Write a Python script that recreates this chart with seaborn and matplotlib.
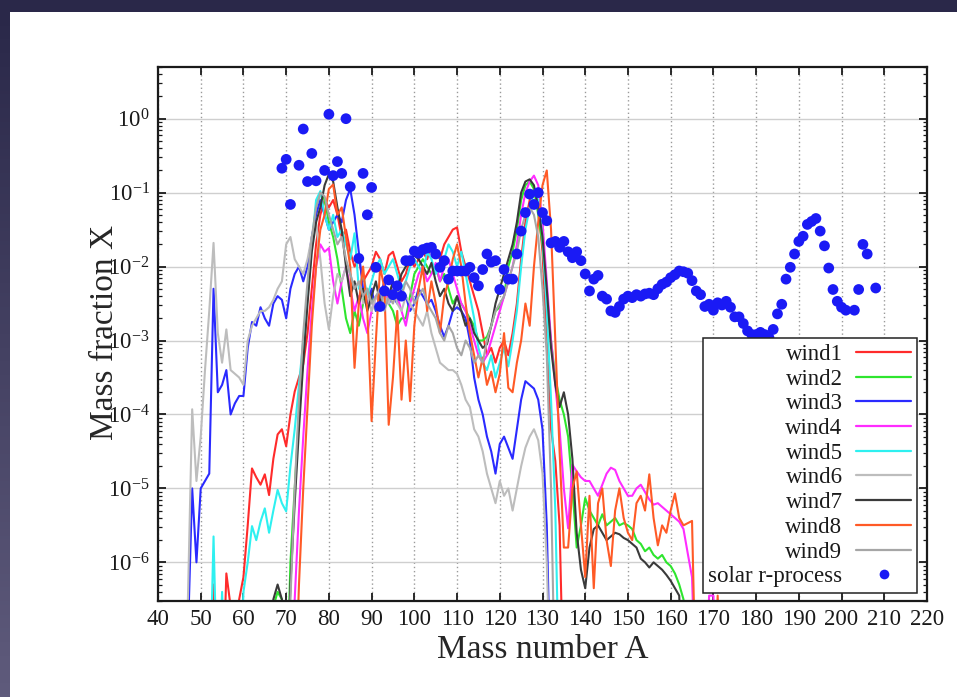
import numpy as np
import pandas as pd
import matplotlib
matplotlib.use("Agg")
import matplotlib.pyplot as plt
from matplotlib.lines import Line2D
from matplotlib.patches import Rectangle
from matplotlib.ticker import (FixedLocator, LogLocator, LogFormatterSciNotation,
                               NullFormatter)
import seaborn as sns

# Mass numbers shared by all wind trajectories
mass_number = list(range(45, 175))

# log10 of the mass fraction per wind trajectory (-8 = far below the plotted range)
wind1_log = [
    -8, -8, -8, -8, -8, -8, -8, -8, -6.3, -8,
    -8, -6.15, -6.6, -8, -6.5, -6.2, -5.5, -4.73, -4.85, -4.95,
    -4.81, -5.09, -4.6, -4.27, -4.2, -4.43, -4.0, -3.69, -3.5, -3.32,
    -2.9, -2.3, -1.7, -1.3, -1.1, -1.2, -1.1, -1.3, -1.6, -1.5,
    -1.8, -2.0, -1.9, -2.2, -2.1, -2.0, -1.8, -1.9, -2.1, -1.85,
    -1.8, -2.0, -2.2, -2.1, -1.9, -2.0, -1.9, -1.8, -1.9, -1.7,
    -1.8, -1.9, -1.7, -1.6, -1.5, -1.47, -1.8, -2.0, -2.2, -2.4,
    -2.6, -2.9, -3.2, -3.1, -3.3, -3.1, -3.0, -3.2, -2.9, -2.5,
    -1.9, -1.4, -1.1, -0.95, -1.2, -1.8, -3.0, -4.2, -4.63, -5.5,
    -8, -8, -8, -8, -8, -8, -8, -8, -8, -8,
    -8, -8, -8, -8, -8, -8, -8, -8, -8, -8,
    -8, -8, -8, -8, -8, -8, -8, -8, -8, -8,
    -8, -8, -8, -8, -8, -8, -8, -8, -8, -8,
]
wind2_log = [
    -8, -8, -8, -8, -8, -8, -8, -8, -8, -8,
    -8, -8, -8, -8, -8, -8, -8, -8, -8, -8,
    -8, -8, -6.6, -6.4, -6.5, -8, -6.0, -5.0, -4.0, -3.2,
    -2.4, -1.7, -1.2, -1.0, -1.1, -1.4, -1.6, -1.9, -2.3, -2.7,
    -2.9, -2.6, -2.8, -2.5, -2.3, -2.4, -2.6, -2.4, -2.3, -2.5,
    -2.6, -2.8, -2.7, -2.7, -2.4, -2.1, -2.0, -1.9, -2.0, -2.1,
    -2.0, -2.2, -2.1, -2.3, -2.5, -2.4, -2.5, -2.6, -2.7, -2.8,
    -3.0, -3.0, -2.95, -2.8, -2.6, -2.55, -2.4, -2.0, -1.8, -1.5,
    -1.1, -0.9, -0.85, -0.95, -1.3, -1.7, -2.4, -3.0, -3.5, -3.8,
    -4.0, -4.3, -5.0, -5.8, -5.5, -5.13, -5.3, -5.4, -5.5, -5.35,
    -5.5, -5.45, -5.4, -5.5, -5.47, -5.5, -5.55, -5.7, -5.75, -5.85,
    -5.8, -5.9, -5.95, -5.9, -6.0, -6.05, -6.15, -6.3, -6.5, -8,
    -8, -8, -8, -8, -8, -8, -8, -8, -8, -8,
]
wind3_log = [
    -8, -8, -7, -5.0, -6.0, -5.0, -4.9, -4.8, -2.3, -3.7,
    -3.6, -3.4, -4.0, -3.85, -3.75, -3.75, -3.1, -2.75, -2.8, -2.55,
    -2.7, -2.8, -2.5, -2.4, -2.45, -2.7, -2.3, -2.1, -2.0, -2.2,
    -2.0, -1.6, -1.3, -1.1, -1.3, -1.5, -1.4, -1.3, -1.4, -1.1,
    -0.95, -1.3, -1.8, -2.3, -2.5, -2.3, -2.6, -2.4, -2.2, -2.5,
    -2.4, -2.5, -2.3, -2.4, -2.6, -2.5, -2.3, -2.4, -2.5, -2.45,
    -2.6, -2.8, -2.95, -2.8, -2.6, -2.55, -2.6, -2.7, -3.0, -3.5,
    -3.8, -4.0, -4.3, -4.5, -4.8, -4.4, -4.3, -4.45, -4.6, -4.2,
    -3.8, -3.55, -3.6, -3.65, -3.8, -4.2, -5.5, -8, -8, -8,
    -8, -8, -8, -8, -8, -8, -8, -8, -8, -8,
    -8, -8, -8, -8, -8, -8, -8, -8, -8, -8,
    -8, -8, -8, -8, -8, -8, -8, -8, -8, -8,
    -8, -8, -8, -8, -8, -8, -8, -8, -8, -8,
]
wind4_log = [
    -8, -8, -8, -8, -8, -8, -8, -8, -8, -8,
    -8, -8, -8, -8, -8, -8, -8, -8, -8, -8,
    -8, -8, -8, -8, -8, -8, -8, -6.5, -5.3, -4.3,
    -3.4, -2.6, -2.0, -1.7, -1.8, -1.75, -2.2, -2.5, -2.2, -2.0,
    -2.3, -2.6, -2.4, -2.7, -2.9, -2.6, -2.4, -2.5, -2.3, -2.5,
    -2.2, -2.4, -2.6, -2.8, -2.5, -2.3, -2.1, -2.0, -2.2, -2.1,
    -1.95, -2.2, -2.0, -1.9, -2.1, -2.3, -2.5, -2.6, -2.8, -3.0,
    -3.2, -3.3, -3.2, -3.0, -2.8, -2.6, -2.4, -2.2, -2.0, -1.7,
    -1.3, -1.0, -0.85, -0.77, -0.9, -1.4, -2.2, -3.0, -3.6, -4.2,
    -5.0, -5.54, -4.68, -4.77, -4.85, -4.9, -4.9, -5.0, -5.1, -4.95,
    -4.8, -4.72, -4.75, -4.9, -5.0, -5.1, -5.1, -5.0, -4.95, -5.05,
    -5.15, -5.22, -5.2, -5.25, -5.3, -5.35, -5.4, -5.45, -5.55, -5.88,
    -6.2, -8, -8, -8, -6.45, -6.45, -8, -8, -8, -8,
]
wind5_log = [
    -8, -8, -8, -8, -8, -8, -8, -8, -5.65, -8,
    -6.4, -8, -8, -8, -8, -6.4, -6.0, -5.51, -5.7, -5.45,
    -5.27, -5.6, -5.3, -5.02, -5.2, -5.31, -4.7, -4.2, -3.6, -3.0,
    -2.4, -1.7, -1.1, -0.98, -1.3, -1.5, -1.3, -1.6, -1.5, -1.7,
    -1.9, -1.55, -2.3, -2.1, -2.4, -2.2, -2.0, -1.9, -2.1, -2.0,
    -1.9, -2.1, -2.3, -2.2, -2.0, -1.9, -2.0, -2.1, -1.8, -1.9,
    -2.1, -2.0, -1.9, -1.7, -1.8, -2.0, -1.8, -2.1, -2.4, -2.7,
    -3.1, -3.3, -3.4, -3.2, -3.5, -3.3, -3.1, -3.35, -3.0, -2.6,
    -2.0, -1.5, -1.2, -1.0, -1.1, -1.6, -2.6, -3.8, -5.3, -8,
    -8, -8, -8, -8, -8, -8, -8, -8, -8, -8,
    -8, -8, -8, -8, -8, -8, -8, -8, -8, -8,
    -8, -8, -8, -8, -8, -8, -8, -8, -8, -8,
    -8, -8, -8, -8, -8, -8, -8, -8, -8, -8,
]
wind6_log = [
    -8, -8, -6.5, -3.93, -4.9, -4.3, -3.4, -2.6, -1.68, -2.9,
    -3.3, -2.85, -3.4, -3.45, -3.5, -3.6, -3.0, -2.8, -2.7, -2.6,
    -2.6, -2.55, -2.45, -2.3, -2.2, -1.7, -1.6, -1.9, -2.0, -2.1,
    -1.9, -1.6, -1.4, -1.9, -2.5, -2.85, -2.4, -2.1, -2.2, -2.0,
    -2.1, -2.3, -2.2, -2.5, -2.4, -2.6, -2.4, -2.5, -2.4, -2.5,
    -2.3, -2.5, -2.6, -2.4, -2.5, -2.6, -2.7, -2.8, -2.6, -2.9,
    -3.1, -3.3, -3.35, -3.4, -3.4, -3.45, -3.6, -3.8, -3.9, -4.2,
    -4.3, -4.5, -4.8, -5.0, -5.2, -4.9, -5.1, -5.0, -5.3, -5.0,
    -4.7, -4.45, -4.3, -4.2, -4.35, -4.8, -6.0, -8, -8, -8,
    -8, -8, -8, -8, -8, -8, -8, -8, -8, -8,
    -8, -8, -8, -8, -8, -8, -8, -8, -8, -8,
    -8, -8, -8, -8, -8, -8, -8, -8, -8, -8,
    -8, -8, -8, -8, -8, -8, -8, -8, -8, -8,
]
wind7_log = [
    -8, -8, -8, -8, -8, -8, -8, -8, -8, -8,
    -8, -8, -8, -8, -8, -8, -8, -8, -8, -8,
    -8, -8, -6.5, -6.3, -6.5, -8, -6.3, -5.2, -4.2, -3.3,
    -2.5, -1.8, -1.4, -1.2, -0.9, -0.75, -0.85, -1.2, -1.5, -2.0,
    -2.4, -2.2, -2.5, -2.3, -2.6, -2.4, -2.2, -2.5, -2.3, -2.4,
    -2.2, -2.3, -2.1, -2.0, -1.9, -1.85, -1.9, -2.0, -2.1, -1.95,
    -2.2, -2.4, -2.3, -2.5, -2.6, -2.4, -2.6, -2.8, -2.7, -2.9,
    -3.0, -3.1, -3.05, -2.8, -2.5, -2.3, -2.1, -1.9, -1.7, -1.4,
    -1.0, -0.85, -0.82, -0.9, -1.2, -1.6, -2.3, -3.1, -3.6, -3.9,
    -3.7, -4.0, -4.6, -5.6, -6.1, -6.35, -5.8, -5.55, -5.5, -5.6,
    -5.7, -5.65, -5.6, -5.62, -5.67, -5.7, -5.75, -5.8, -5.95, -6.0,
    -6.07, -6.0, -6.05, -6.1, -6.17, -6.25, -6.35, -6.45, -8, -8,
    -8, -8, -8, -8, -8, -8, -8, -8, -8, -8,
]
wind8_log = [
    -8, -8, -8, -8, -8, -8, -8, -8, -8, -8,
    -8, -8, -8, -8, -8, -8, -8, -8, -8, -8,
    -8, -8, -8, -8, -8, -8, -8, -8, -6.3, -5.0,
    -3.9, -2.8, -2.0, -1.5, -1.3, -0.95, -0.89, -1.3, -1.2, -1.6,
    -2.0, -3.37, -2.5, -2.0, -2.6, -4.09, -3.0, -2.0, -2.3, -4.14,
    -3.5, -2.6, -3.8, -3.0, -3.82, -2.8, -2.3, -2.0, -2.6, -2.2,
    -2.5, -2.9, -2.4, -2.2, -1.9, -1.7, -2.0, -2.5, -2.9, -3.2,
    -3.5, -3.23, -3.6, -3.42, -3.7, -3.45, -2.9, -3.64, -3.7, -3.3,
    -3.0, -2.5, -2.8, -2.0, -1.4, -0.9, -0.7, -1.5, -3.0, -4.5,
    -5.8, -5.8, -5.0, -4.77, -5.5, -6.2, -5.1, -6.35, -5.2, -5.0,
    -5.7, -6.05, -5.3, -5.0, -5.4, -5.6, -5.7, -5.2, -5.1, -5.3,
    -4.81, -5.4, -5.77, -5.5, -5.6, -5.3, -5.07, -5.4, -5.5, -5.47,
    -5.44, -8, -8, -8, -8, -8, -6.45, -8, -8, -8,
]
wind9_log = [
    -8, -8, -8, -8, -8, -8, -8, -8, -8, -8,
    -8, -8, -8, -8, -8, -8, -8, -8, -8, -8,
    -8, -8, -8, -8, -8, -8, -6.5, -5.0, -3.8, -2.9,
    -2.2, -1.6, -1.2, -1.0, -1.05, -1.3, -1.5, -1.7, -1.6, -1.9,
    -2.1, -2.3, -2.2, -2.4, -2.3, -2.5, -2.4, -2.3, -2.6, -2.4,
    -2.5, -2.3, -2.4, -2.2, -2.3, -2.5, -2.4, -2.3, -2.5, -2.6,
    -2.7, -2.9, -3.0, -2.8, -2.9, -3.1, -3.2, -3.0, -3.1, -3.3,
    -3.2, -3.3, -3.0, -2.8, -2.6, -2.5, -2.4, -2.2, -2.0, -1.8,
    -1.5, -1.3, -1.2, -1.3, -1.6, -2.3, -3.2, -5.0, -8, -8,
    -8, -8, -8, -8, -8, -8, -8, -8, -8, -8,
    -8, -8, -8, -8, -8, -8, -8, -8, -8, -8,
    -8, -8, -8, -8, -8, -8, -8, -8, -8, -8,
    -8, -8, -8, -8, -8, -8, -8, -8, -8, -8,
]

# Solar r-process abundances: mass number and log10 mass fraction
solar_A = [
    69, 70, 71, 73, 74, 75, 76, 77, 79, 80, 81, 82, 83, 84, 85, 87, 88, 89, 90,
    91, 92, 93, 94, 95, 96, 97, 98, 99, 100, 101, 102, 103, 104, 105, 106, 107,
    108, 109, 110, 111, 112, 113, 114, 115, 116, 117, 118, 119, 120, 121, 122,
    123, 124, 125, 126, 127, 128, 129, 130, 131, 132, 133, 134, 135, 136, 137,
    138, 139, 140, 141, 142, 143, 144, 145, 146, 147, 148, 149, 150, 151, 152,
    153, 154, 155, 156, 157, 158, 159, 160, 161, 162, 163, 164, 165, 166, 167,
    168, 169, 170, 171, 172, 173, 174, 175, 176, 177, 178, 179, 180, 181, 182,
    183, 184, 185, 186, 187, 188, 189, 190, 191, 192, 193, 194, 195, 196, 197,
    198, 199, 200, 201, 203, 204, 205, 206, 208,
]
solar_log = [
    -0.67, -0.55, -1.16, -0.63, -0.14, -0.85, -0.47, -0.84, -0.70, 0.06, -0.77,
    -0.58, -0.74, 0.0, -0.92, -1.89, -0.74, -1.30, -0.93,
    -2.01, -2.54, -2.33, -2.18, -2.38, -2.26, -2.40, -1.92, -1.92, -1.79, -1.82,
    -1.77, -1.75, -1.74, -1.83, -2.01, -1.92,
    -2.17, -2.06, -2.06, -2.06, -2.06, -2.01, -2.15, -2.26, -2.04, -1.83, -1.94,
    -1.92, -2.31, -2.04, -2.17,
    -2.17, -1.83, -1.52, -1.27, -1.02, -1.16, -1.0, -1.27, -1.38, -1.68, -1.66,
    -1.74, -1.66, -1.80, -1.88,
    -1.80, -1.92, -2.10, -2.33, -2.17, -2.12, -2.40, -2.44, -2.60, -2.62, -2.54,
    -2.44, -2.40, -2.42, -2.38,
    -2.40, -2.37, -2.36, -2.38, -2.30, -2.24, -2.21, -2.15, -2.11, -2.06, -2.07,
    -2.09, -2.19, -2.33, -2.38,
    -2.54, -2.51, -2.59, -2.49, -2.52, -2.47, -2.55, -2.68, -2.68, -2.77, -2.87,
    -2.92, -2.92, -2.89, -2.92,
    -2.96, -2.85, -2.64, -2.51, -2.17, -2.01, -1.83, -1.66, -1.59, -1.43, -1.39,
    -1.35, -1.52, -1.72, -2.02,
    -2.31, -2.47, -2.55, -2.59, -2.59, -2.31, -1.70, -1.83, -2.29,
]

# Axis ticks
x_ticks = [40, 50, 60, 70, 80, 90, 100, 110, 120, 130, 140, 150, 160, 170, 180,
           190, 200, 210, 220]
y_ticks = [1e-6, 1e-5, 1e-4, 1e-3, 1e-2, 1e-1, 1e0]

series_names = ["wind1", "wind2", "wind3", "wind4", "wind5",
                "wind6", "wind7", "wind8", "wind9"]
series_logs = [wind1_log, wind2_log, wind3_log, wind4_log, wind5_log,
               wind6_log, wind7_log, wind8_log, wind9_log]
series_colors = ["#ff2b2b", "#2ee52e", "#2a2aff", "#ff2cff", "#2ef0f0",
                 "#bdbdbd", "#3a3a3a", "#ff5a26", "#a6a6a6"]
solar_color = "#1a1af5"

sns.set_style("ticks")
plt.rcParams.update({
    "font.family": ["Liberation Serif", "DejaVu Serif"],
    "mathtext.fontset": "custom",
    "mathtext.rm": "Liberation Serif",
    "mathtext.it": "Liberation Serif:italic",
    "mathtext.bf": "Liberation Serif:bold",
    "axes.edgecolor": "#1a1a1a",
    "text.color": "#1a1a1a",
})

wind_df = pd.concat(
    [pd.DataFrame({"A": mass_number, "X": np.power(10.0, vals), "series": name})
     for name, vals in zip(series_names, series_logs)],
    ignore_index=True,
)
solar_df = pd.DataFrame({"A": solar_A, "X": np.power(10.0, solar_log)})

W, H = 957, 697
fig = plt.figure(figsize=(W / 100, H / 100), dpi=100)
fig.patch.set_facecolor("white")

# dark slide frame along the top and the left side
fig.patches.append(Rectangle((0, 1 - 12 / H), 1, 12 / H, transform=fig.transFigure,
                             facecolor="#2a2849", edgecolor="none", zorder=0))
band = fig.add_axes([0, 0, 10 / W, 1 - 12 / H])
band.set_axis_off()
top_rgb = np.array([0x2a, 0x28, 0x49]) / 255
bot_rgb = np.array([0x5f, 0x5b, 0x7c]) / 255
frac = np.linspace(0, 1, 200)[:, None]
band.imshow((top_rgb * (1 - frac) + bot_rgb * frac)[:, None, :], aspect="auto",
            extent=(0, 1, 0, 1))

ax = fig.add_axes([158 / W, 1 - 601 / H, 769 / W, 534 / H])
ax.set_yscale("log")
ax.set_xlim(40, 220)
ax.set_ylim(3e-7, 5)

sns.lineplot(data=wind_df, x="A", y="X", hue="series", hue_order=series_names,
             palette=dict(zip(series_names, series_colors)), estimator=None,
             sort=False, legend=False, linewidth=1.5, ax=ax)
sns.scatterplot(data=solar_df, x="A", y="X", color=solar_color, s=60,
                edgecolor="none", zorder=5, ax=ax)

ax.xaxis.set_major_locator(FixedLocator(x_ticks))
ax.yaxis.set_major_locator(FixedLocator(y_ticks))
ax.yaxis.set_minor_locator(LogLocator(base=10, subs=np.arange(2, 10), numticks=20))
ax.yaxis.set_major_formatter(LogFormatterSciNotation())
ax.yaxis.set_minor_formatter(NullFormatter())
ax.set_xlim(40, 220)
ax.set_ylim(3e-7, 5)
ax.tick_params(which="both", direction="in", top=True, right=True, colors="#1a1a1a")
ax.tick_params(which="major", length=6, width=1.3, labelsize=16.5, pad=6)
ax.tick_params(which="minor", length=3, width=0.9)

ax.set_axisbelow(True)
ax.xaxis.grid(True, which="major", linestyle=(0, (1, 2)), color="#9a9a9a", linewidth=1.0)
ax.yaxis.grid(True, which="major", linestyle="-", color="#cfcfcf", linewidth=1.0)
for sp in ax.spines.values():
    sp.set_linewidth(1.6)

ax.set_xlabel("Mass number A", fontsize=24)
ax.set_ylabel("Mass fraction X", fontsize=24)
ax.xaxis.set_label_coords(0.5, -0.062)
ax.yaxis.set_label_coords(-0.049, 0.502)

handles = [Line2D([], [], color=c, linewidth=1.6) for c in series_colors]
handles.append(Line2D([], [], linestyle="none", marker="o", markersize=7,
                      markerfacecolor=solar_color, markeredgecolor="none"))
labels = series_names + ["solar r-process"]
leg = ax.legend(handles, labels, loc="lower right", bbox_to_anchor=(0.987, 0.015),
                markerfirst=False, frameon=True, fancybox=False, framealpha=1,
                edgecolor="#222222", fontsize=16.5, labelspacing=0.16,
                handlelength=2.4, handletextpad=0.6, borderpad=0.25,
                borderaxespad=0)
leg.get_frame().set_linewidth(1.1)
leg.set_zorder(10)

fig.savefig("out.png", dpi=100, facecolor=fig.get_facecolor())
